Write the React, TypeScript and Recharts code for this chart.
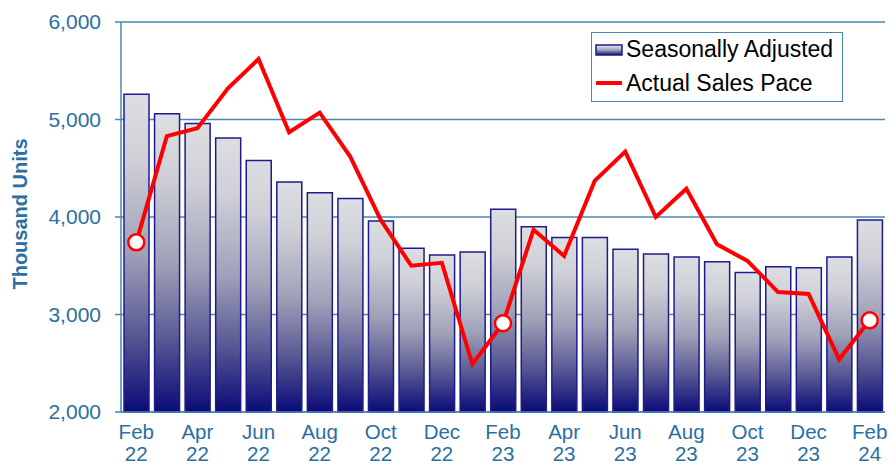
import { ComposedChart, Bar, Line, XAxis, YAxis, CartesianGrid } from "recharts";

const months = [
  "Feb 22", "Mar 22", "Apr 22", "May 22", "Jun 22", "Jul 22", "Aug 22", "Sep 22", "Oct 22", "Nov 22",
  "Dec 22", "Jan 23", "Feb 23", "Mar 23", "Apr 23", "May 23", "Jun 23", "Jul 23", "Aug 23", "Sep 23",
  "Oct 23", "Nov 23", "Dec 23", "Jan 24", "Feb 24",
];

const seasonallyAdjusted = [
  5260, 5060, 4960, 4810, 4580, 4360, 4250, 4190, 3960, 3680,
  3610, 3640, 4080, 3900, 3790, 3790, 3670, 3620, 3590, 3540,
  3430, 3490, 3480, 3590, 3970,
];

const actualPace = [
  3740, 4830, 4910, 5320, 5620, 4870, 5070, 4620, 3970, 3500,
  3530, 2490, 2910, 3870, 3600, 4370, 4670, 4000, 4290, 3720,
  3550, 3230, 3210, 2540, 2940,
];

const yTicks = [2000, 3000, 4000, 5000, 6000];

const data = months.map((m, i) => ({ month: m, sa: seasonallyAdjusted[i], actual: actualPace[i] }));

const AXIS_BLUE = "#2a6fa3";
const GRID_BLUE = "#4a87b5";
const FONT = "Arial, 'Liberation Sans', sans-serif";

const XTick = (props: any) => {
  const { x, y, payload } = props;
  const [mon, yr] = String(payload.value).split(" ");
  return (
    <text x={x} y={y} textAnchor="middle" fill={AXIS_BLUE} fontSize={20.5} fontFamily={FONT}>
      <tspan x={x} dy={19}>{mon}</tspan>
      <tspan x={x} dy={22}>{yr}</tspan>
    </text>
  );
};

const FebDot = (props: any) => {
  const { cx, cy, index } = props;
  if (index % 12 !== 0) return <g key={index} />;
  return <circle key={index} cx={cx} cy={cy} r={8} fill="#fff" stroke="#ff0000" strokeWidth={2.5} />;
};

const LegendBox = () => (
  <div
    style={{
      position: "absolute",
      left: 591,
      top: 32,
      width: 252,
      height: 70,
      border: `1.5px solid ${GRID_BLUE}`,
      background: "#fff",
      fontFamily: FONT,
      fontSize: 23,
      color: "#000",
      boxSizing: "border-box",
      padding: "0 0 0 3px",
      whiteSpace: "nowrap",
    }}
  >
    <div style={{ display: "flex", alignItems: "center", height: 33 }}>
      <svg width={28} height={12} style={{ marginRight: 3 }}>
        <rect x={1} y={1} width={26} height={10} fill="url(#barGrad)" stroke="#1c1c8c" strokeWidth={1.5} />
      </svg>
      Seasonally Adjusted
    </div>
    <div style={{ display: "flex", alignItems: "center", height: 34 }}>
      <svg width={28} height={12} style={{ marginRight: 3 }}>
        <line x1={1} y1={6} x2={27} y2={6} stroke="#ff0000" strokeWidth={4} />
      </svg>
      Actual Sales Pace
    </div>
  </div>
);

const YLabel = () => (
  <text
    x={27}
    y={214}
    transform="rotate(-90 27 214)"
    textAnchor="middle"
    fill={AXIS_BLUE}
    fontSize={20}
    fontWeight="bold"
    fontFamily={FONT}
  >
    Thousand Units
  </text>
);

export default function App() {
  return (
    <div style={{ position: "absolute", left: 0, top: 0, width: 890, height: 466, background: "#fff" }}>
      <ComposedChart width={890} height={466} data={data} margin={{ top: 22, right: 5, bottom: 0, left: 0 }} barCategoryGap={3}>
        <defs>
          <linearGradient id="barGrad" x1="0" y1="0" x2="0" y2="1">
            <stop offset="0%" stopColor="#dddee1" />
            <stop offset="20%" stopColor="#d0d1d8" />
            <stop offset="50%" stopColor="#a0a1b8" />
            <stop offset="75%" stopColor="#5a5a95" />
            <stop offset="100%" stopColor="#0a0a78" />
          </linearGradient>
        </defs>
        <CartesianGrid horizontal vertical={false} stroke={GRID_BLUE} strokeWidth={1.5} />
        <XAxis
          dataKey="month"
          interval={1}
          tick={<XTick />}
          tickLine={false}
          axisLine={{ stroke: GRID_BLUE, strokeWidth: 1.5 }}
          height={54}
        />
        <YAxis
          domain={[2000, 6000]}
          ticks={yTicks}
          tickFormatter={(v: number) => v.toLocaleString("en-US")}
          tick={{ fill: AXIS_BLUE, fontSize: 21, fontFamily: FONT }}
          tickSize={6}
          tickMargin={14}
          axisLine={{ stroke: GRID_BLUE, strokeWidth: 1.5 }}
          tickLine={{ stroke: GRID_BLUE, strokeWidth: 1.5 }}
          width={121}
          label={<YLabel />}
        />
        <YAxis
          yAxisId="right"
          orientation="right"
          domain={[2000, 6000]}
          ticks={yTicks}
          tick={false}
          tickLine={false}
          axisLine={{ stroke: GRID_BLUE, strokeWidth: 1.5 }}
          width={0}
        />
        <Bar
          dataKey="sa"
          name="Seasonally Adjusted"
          fill="url(#barGrad)"
          stroke="#1c1c8c"
          strokeWidth={1.5}
          isAnimationActive={false}
        />
        <Line
          dataKey="actual"
          name="Actual Sales Pace"
          type="linear"
          stroke="#ff0000"
          strokeWidth={4}
          dot={<FebDot />}
          activeDot={false}
          isAnimationActive={false}
        />
      </ComposedChart>
      <LegendBox />
    </div>
  );
}
